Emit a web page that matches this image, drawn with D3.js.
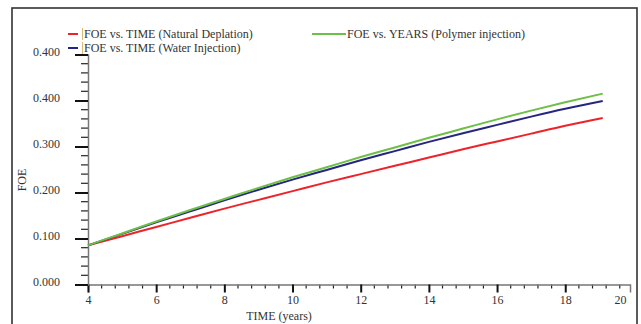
<!DOCTYPE html>
<html>
<head>
<meta charset="utf-8">
<script src="https://cdn.jsdelivr.net/npm/d3@7"></script>
<style>
  body { margin: 0; background: #fff; }
  text { font-family: "Liberation Serif", "Times New Roman", serif; fill: #333; }
</style>
</head>
<body>
<div id="chart"></div>
<script>
// values
var years   = [4, 5, 6, 7, 8, 9, 10, 11, 12, 13, 14, 15, 16, 17, 18, 19.1];
var natural = [0.085, 0.105, 0.125, 0.145, 0.165, 0.184, 0.203, 0.222, 0.240, 0.258, 0.276, 0.294, 0.311, 0.328, 0.345, 0.362];
var water   = [0.085, 0.110, 0.135, 0.159, 0.183, 0.206, 0.228, 0.249, 0.270, 0.290, 0.310, 0.329, 0.347, 0.365, 0.382, 0.399];
var polymer = [0.085, 0.111, 0.137, 0.162, 0.186, 0.210, 0.233, 0.255, 0.277, 0.298, 0.319, 0.339, 0.359, 0.378, 0.396, 0.415];

var xTicks = [4, 6, 8, 10, 12, 14, 16, 18, 20];
var xTickLabels = ["4", "6", "8", "10", "12", "14", "16", "18", "20"];
var yTicks = [0, 0.1, 0.2, 0.3, 0.4, 0.5];
var yTickLabels = ["0.000", "0.100", "0.200", "0.300", "0.400", "0.400"];

var seriesNames = ["FOE vs. TIME (Natural Deplation)", "FOE vs. TIME (Water Injection)", "FOE vs. YEARS (Polymer injection)"];
var seriesColors = ["#ee2229", "#262680", "#6cbf47"];

(function() {
    var width = 641, height = 324;

    var svg = d3.select("#chart").append("svg")
        .attr("width", width).attr("height", height);

    // outer frame (bottom edge runs off the picture)
    svg.append("rect")
        .attr("x", 12).attr("y", 8)
        .attr("width", 625).attr("height", 330)
        .attr("fill", "none")
        .attr("stroke", "#333")
        .attr("stroke-width", 1.6);

    var x = d3.scaleLinear().domain([4, 19.9]).range([88, 630]).clamp(true),
        y = d3.scaleLinear().domain([0, 0.5]).range([284.5, 54.5]);

    // minor ticks
    var xMinor = d3.range(4, 19.7, 0.4).filter(function(d) { return Math.abs(d / 2 - Math.round(d / 2)) > 0.01; });
    var yMinor = d3.range(0, 0.5, 0.02).filter(function(d) { return Math.abs(d * 10 - Math.round(d * 10)) > 0.01; });

    svg.append("g").selectAll("line").data(xMinor).enter().append("line")
        .attr("x1", function(d) { return x(d); }).attr("x2", function(d) { return x(d); })
        .attr("y1", y(0)).attr("y2", y(0) + 4)
        .attr("stroke", "#222").attr("stroke-width", 1.2);

    svg.append("g").selectAll("line").data(yMinor).enter().append("line")
        .attr("y1", function(d) { return y(d); }).attr("y2", function(d) { return y(d); })
        .attr("x1", x(4) - 7).attr("x2", x(4))
        .attr("stroke", "#222").attr("stroke-width", 1.2);

    // x axis
    var xAxis = svg.append("g")
        .attr("transform", "translate(0," + y(0) + ")")
        .call(d3.axisBottom(x).tickValues(xTicks).tickSize(8).tickPadding(3)
            .tickFormat(function(d, i) { return xTickLabels[i]; }));
    xAxis.select(".domain").attr("stroke", "#777").attr("stroke-width", 1.5);
    xAxis.selectAll(".tick line").attr("stroke", "#111").attr("stroke-width", 2);
    xAxis.selectAll("text").attr("font-size", 12).attr("fill", "#333")
        .attr("font-family", "Liberation Serif");
    // last label sits inside the axis end, no tick mark there
    var last = xAxis.selectAll(".tick").filter(function(d) { return d === 20; });
    last.select("line").remove();
    last.select("text").attr("x", -10);

    // y axis
    var yAxis = svg.append("g")
        .attr("transform", "translate(" + x(4) + ",0)")
        .call(d3.axisLeft(y).tickValues(yTicks).tickSize(13).tickPadding(15)
            .tickFormat(function(d, i) { return yTickLabels[i]; }));
    yAxis.select(".domain").attr("stroke", "#777").attr("stroke-width", 1.5);
    yAxis.selectAll(".tick line").attr("stroke", "#111").attr("stroke-width", 2);
    yAxis.selectAll("text").attr("font-size", 12).attr("fill", "#333")
        .attr("font-family", "Liberation Serif").attr("y", -3);

    // curves
    var line = d3.line()
        .curve(d3.curveMonotoneX)
        .x(function(d) { return x(d[0]); })
        .y(function(d) { return y(d[1]); });

    [natural, water, polymer].forEach(function(vals, k) {
        svg.append("path")
            .datum(years.map(function(t, i) { return [t, vals[i]]; }))
            .attr("d", line)
            .attr("fill", "none")
            .attr("stroke", seriesColors[k])
            .attr("stroke-width", 2);
    });

    // axis titles
    svg.append("text")
        .attr("x", 279).attr("y", 320)
        .attr("text-anchor", "middle").attr("font-size", 12)
        .text("TIME (years)");
    svg.append("text")
        .attr("transform", "translate(26,180) rotate(-90)")
        .attr("text-anchor", "middle").attr("font-size", 12)
        .text("FOE");

    // legend
    var legend = [
        {x1: 68, x2: 78, y: 34, tx: 84, bar: true},
        {x1: 68, x2: 78, y: 48, tx: 84, bar: true},
        {x1: 312, x2: 346, y: 34, tx: 347, bar: false}
    ];
    legend.forEach(function(l, k) {
        svg.append("line")
            .attr("x1", l.x1).attr("x2", l.x2).attr("y1", l.y).attr("y2", l.y)
            .attr("stroke", seriesColors[k]).attr("stroke-width", 2);
        if (l.bar) {
            svg.append("line")
                .attr("x1", 82.5).attr("x2", 82.5).attr("y1", l.y - 6).attr("y2", l.y + 6)
                .attr("stroke", "#dcb878").attr("stroke-width", 1);
        }
        svg.append("text")
            .attr("x", l.tx).attr("y", l.y + 4)
            .attr("font-size", 12)
            .text(seriesNames[k]);
    });
})();
</script>
</body>
</html>
